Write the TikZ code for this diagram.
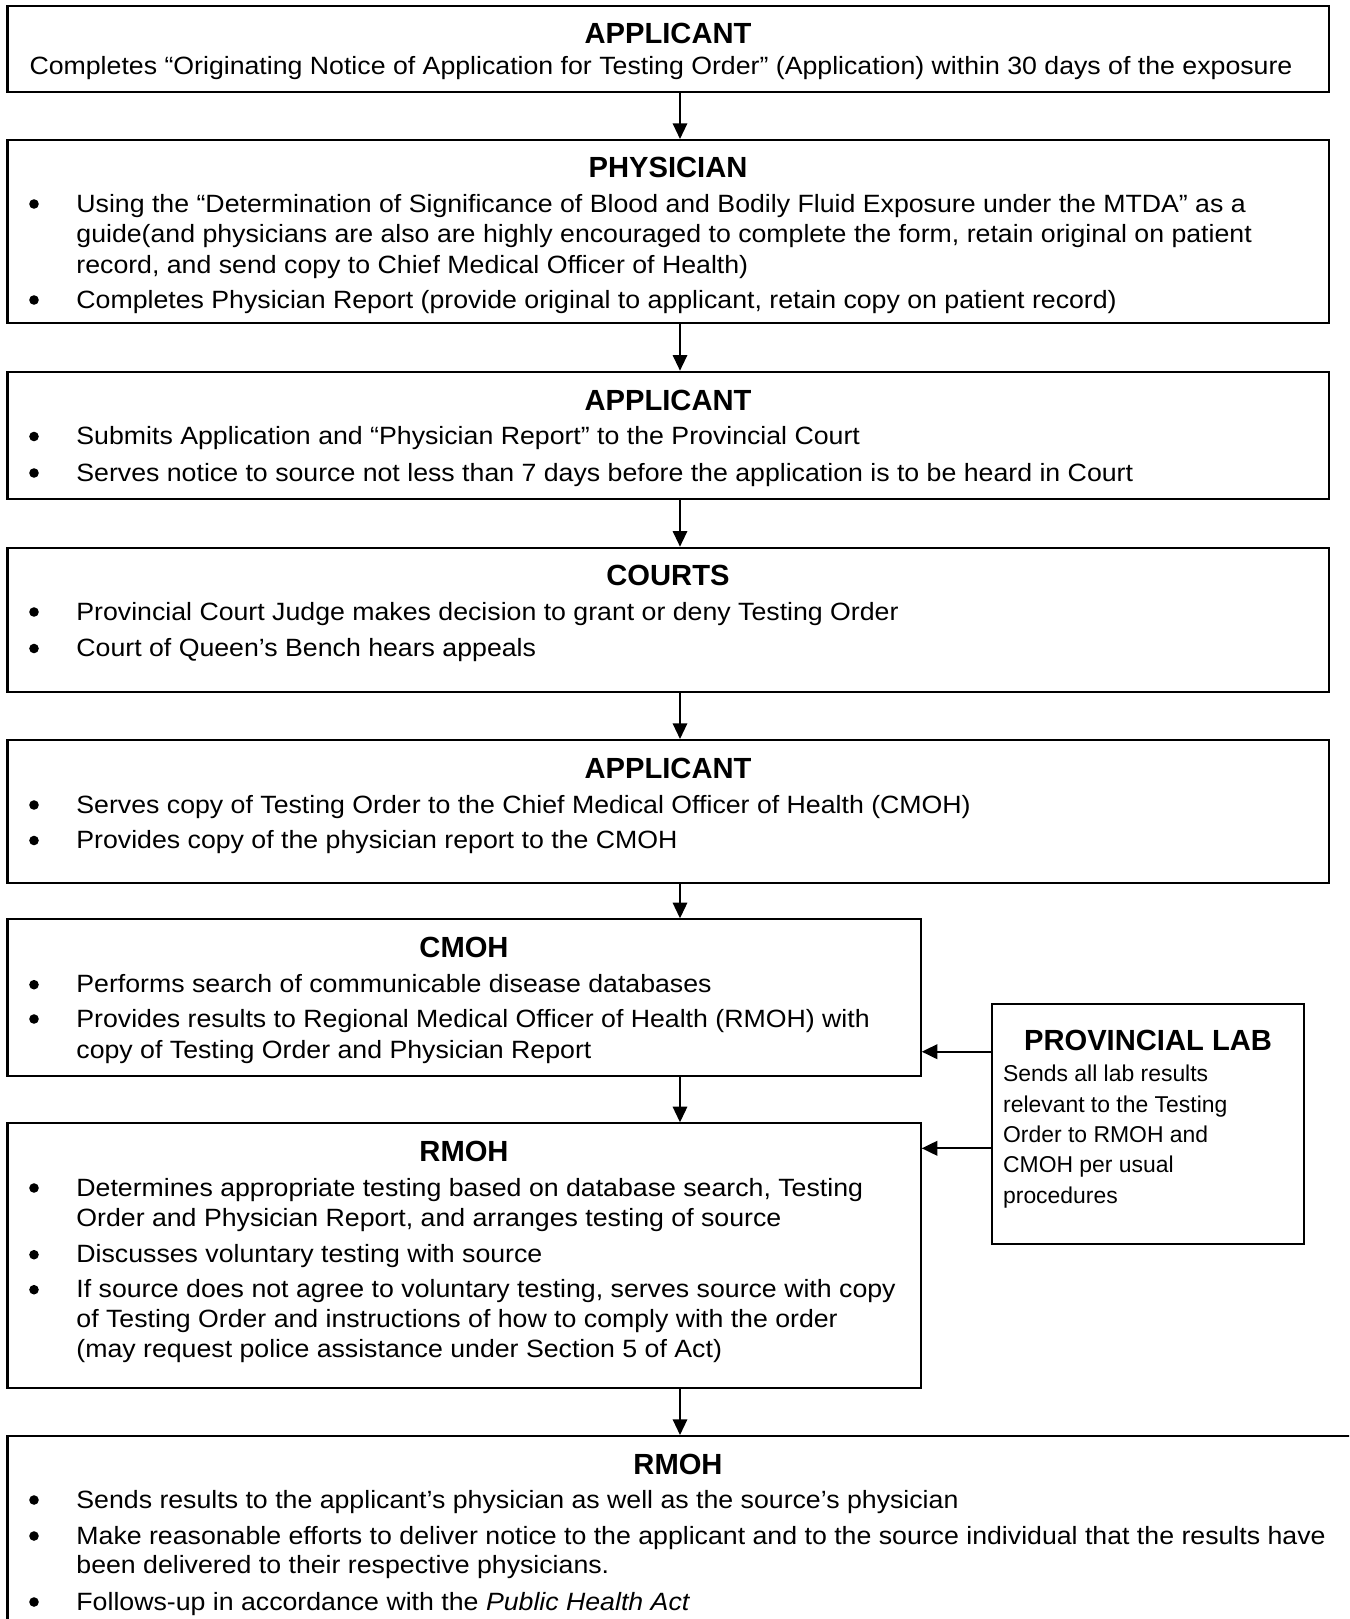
\documentclass[tikz,border=0pt]{standalone}
\usepackage{fontspec}
\setmainfont{Liberation Sans}
\newfontfamily\bodyfont[FakeStretch=1.068]{Liberation Sans}
\usetikzlibrary{arrows.meta,fit}
\newcommand{\bul}[3]{%
  \node[dot] (#1d) at (34,{#2-8}) {};
  \node[txt] (#1) at (76,#2) {#3};}
\newcommand{\cont}[3]{\node[txt] (#1) at (76,#2) {#3};}
\begin{document}
\begin{tikzpicture}[x=0.48pt,y=-0.48pt,
  box/.style={draw,line width=1pt,inner sep=0pt,fit={#1}},
  ttl/.style={anchor=base,font=\fontsize{14}{16}\selectfont\bfseries,inner sep=0pt},
  txt/.style={anchor=base west,font=\bodyfont\fontsize{12}{14}\selectfont,inner sep=0pt},
  ctxt/.style={anchor=base,font=\bodyfont\fontsize{12}{14}\selectfont,inner sep=0pt},
  pltxt/.style={anchor=base west,font=\fontsize{11}{14}\selectfont,inner sep=0pt},
  dot/.style={circle,fill,inner sep=0pt,minimum size=4.6pt},
  arr/.style={-{Triangle[length=7.5pt,width=7pt]},line width=0.65pt},
  larr/.style={-{Triangle[length=7.5pt,width=7pt]},line width=1pt}]
\useasboundingbox (0,0) rectangle (1349,1619);
\clip (0,0) rectangle (1349,1619);
\coordinate (ax) at (680,0);

% Box 1
\node[box={(7.5,6) (1328.6,92)}] (b1) {};
\node[ttl] (b1t) at (668,43) {APPLICANT};
\node[ctxt] (b1x) at (661,74) {Completes “Originating Notice of Application for Testing Order” (Application) within 30 days of the exposure};

% Box 2
\node[box={(7.5,140) (1328.6,323.3)}] (b2) {};
\node[ttl] (b2t) at (668,177) {PHYSICIAN};
\bul{b2a}{212}{Using the “Determination of Significance of Blood and Bodily Fluid Exposure under the MTDA” as a}
\cont{b2b}{242.5}{guide(and physicians are also are highly encouraged to complete the form, retain original on patient}
\cont{b2c}{273}{record, and send copy to Chief Medical Officer of Health)}
\bul{b2e}{308}{Completes Physician Report (provide original to applicant, retain copy on patient record)}

% Box 3
\node[box={(7.5,371.7) (1328.6,499.3)}] (b3) {};
\node[ttl] (b3t) at (668,410) {APPLICANT};
\bul{b3a}{444.5}{Submits Application and “Physician Report” to the Provincial Court}
\bul{b3b}{481}{Serves notice to source not less than 7 days before the application is to be heard in Court}

% Box 4
\node[box={(7.5,547.7) (1328.6,692)}] (b4) {};
\node[ttl] (b4t) at (668,585) {COURTS};
\bul{b4a}{620}{Provincial Court Judge makes decision to grant or deny Testing Order}
\bul{b4b}{656.5}{Court of Queen’s Bench hears appeals}

% Box 5
\node[box={(7.5,740) (1328.6,883.3)}] (b5) {};
\node[ttl] (b5t) at (668,778) {APPLICANT};
\bul{b5a}{813}{Serves copy of Testing Order to the Chief Medical Officer of Health (CMOH)}
\bul{b5b}{848.5}{Provides copy of the physician report to the CMOH}

% CMOH
\node[box={(7.5,919.3) (920.7,1076)}] (b6) {};
\node[ttl] (b6t) at (464,957) {CMOH};
\bul{b6a}{992.7}{Performs search of communicable disease databases}
\bul{b6b}{1027}{Provides results to Regional Medical Officer of Health (RMOH) with}
\cont{b6c}{1058}{copy of Testing Order and Physician Report}

% RMOH
\node[box={(7.5,1123.3) (920.7,1388.3)}] (b7) {};
\node[ttl] (b7t) at (464,1161) {RMOH};
\bul{b7a}{1196}{Determines appropriate testing based on database search, Testing}
\cont{b7b}{1226.7}{Order and Physician Report, and arranges testing of source}
\bul{b7c}{1262.7}{Discusses voluntary testing with source}
\bul{b7d}{1297.7}{If source does not agree to voluntary testing, serves source with copy}
\cont{b7e}{1327.7}{of Testing Order and instructions of how to comply with the order}
\cont{b7f}{1357.5}{(may request police assistance under Section 5 of Act)}

% Provincial lab
\node[box={(991.7,1004) (1304.3,1244)}] (pl) {};
\node[ttl] (plt) at (1148,1050.7) {PROVINCIAL LAB};
\node[pltxt] (pla) at (1002.7,1081.7) {Sends all lab results};
\node[pltxt] (plb) at (1002.7,1112.5) {relevant to the Testing};
\node[pltxt] (plc) at (1002.7,1142.7) {Order to RMOH and};
\node[pltxt] (pld) at (1002.7,1172.7) {CMOH per usual};
\node[pltxt] (ple) at (1002.7,1203) {procedures};

% Bottom RMOH
\node[box={(7.5,1436) (1360,1650)}] (b8) {};
\node[ttl] (b8t) at (678,1474) {RMOH};
\bul{b8a}{1508}{Sends results to the applicant’s physician as well as the source’s physician}
\bul{b8b}{1544}{Make reasonable efforts to deliver notice to the applicant and to the source individual that the results have}
\cont{b8c}{1573.5}{been delivered to their respective physicians.}
\bul{b8d}{1610}{Follows-up in accordance with the \textit{Public Health Act}}

% Arrows
\draw[arr] (b1.south -| ax) -- (b2.north -| ax);
\draw[arr] (b2.south -| ax) -- (b3.north -| ax);
\draw[arr] (b3.south -| ax) -- (b4.north -| ax);
\draw[arr] (b4.south -| ax) -- (b5.north -| ax);
\draw[arr] (b5.south -| ax) -- (b6.north -| ax);
\draw[arr] (b6.south -| ax) -- (b7.north -| ax);
\draw[arr] (b7.south -| ax) -- (b8.north -| ax);
\coordinate (ya) at (0,1051.7);
\coordinate (yb) at (0,1148.3);
\draw[larr] (pl.west |- ya) -- (b6.east |- ya);
\draw[larr] (pl.west |- yb) -- (b7.east |- yb);
\end{tikzpicture}
\end{document}
